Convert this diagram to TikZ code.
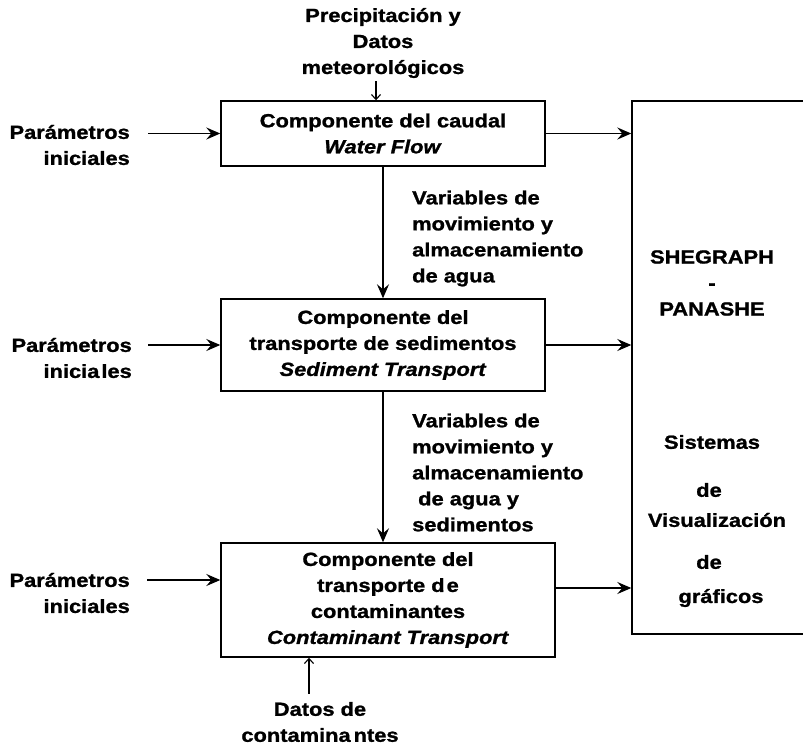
\documentclass[tikz,border=0pt]{standalone}
\usepackage{fontspec}
\setmainfont{Liberation Sans}[FakeStretch=1.15, BoldFeatures={FakeBold=1.2}, BoldItalicFeatures={FakeBold=1.2}]
\usetikzlibrary{arrows.meta}
\begin{document}
\begin{tikzpicture}[x=1pt,y=-1pt,
  txt/.style={font=\fontsize{19}{26}\selectfont\bfseries, inner sep=0pt},
  box/.style={txt, draw, line width=1.4pt, align=center},
  arr/.style={line width=1.4pt, -{Stealth[length=14pt,width=12pt,inset=5pt]}},
  smallarr/.style={line width=1.1pt, -{Straight Barb[length=5pt,width=9pt]}}]
\useasboundingbox (0,0) rectangle (803,745);
\clip (0,0) rectangle (803,745);
\fill[white] (0,0) rectangle (803,745);

% component boxes
\node[box, minimum width=324pt, minimum height=65pt] (b1) at (383,133.5)
  {Componente del caudal\\\textit{Water Flow}};
\node[box, minimum width=324pt, minimum height=92pt] (b2) at (383,345)
  {Componente del\\transporte de sedimentos\\\textit{Sediment Transport}};
\node[box, minimum width=334pt, minimum height=114pt] (b3) at (388,600)
  {Componente del\\transporte d\kern2pt e\\contaminantes\\\textit{Contaminant Transport}};

% visualisation box (right edge cut by the page)
\node[draw, line width=1.4pt, minimum width=178pt, minimum height=533pt, inner sep=0pt] (vis) at (721,367.5) {};
\node[txt, align=center] (sheg) at (712,283) {SHEGRAPH\\-\\PANASHE};
\node[txt] (v1) at (712,442) {Sistemas};
\node[txt] (v2) at (709,490) {de};
\node[txt] (v3) at (717,520) {Visualización};
\node[txt] (v4) at (709,562) {de};
\node[txt] (v5) at (721,598) {gráficos};

% inputs
\node[txt, align=center] (prec) at (383,43) {Precipitación y\\Datos\\meteorológicos};
\node[txt, align=right, anchor=east] (p1) at (130,145) {Parámetros\\iniciales};
\node[txt, align=right, anchor=east] (p2) at (132,358) {Parámetros\\inicia\kern2pt les};
\node[txt, align=right, anchor=east] (p3) at (130,593) {Parámetros\\iniciales};
\node[txt, align=center] (cont) at (320,722) {Datos de\\contamina\kern3pt ntes};

% flow labels
\node[txt, align=left, anchor=west] (l1) at (412,238.5)
  {Variables de\\movimiento y\\almacenamiento\\de agua};
\node[txt, align=left, anchor=west] (l2) at (412,472.5)
  {Variables de\\movimiento y\\almacenamiento\\\hspace*{6pt}de agua y\\sedimentos};

% anchor points
\coordinate (b3in) at ([yshift=20pt]b3.west);
\coordinate (b3out) at ([yshift=12pt]b3.east);

% connectors
\draw[smallarr] ([shift={(-7pt,19pt)}]b1.north) -- ([xshift=-7pt]b1.north);
\draw[arr] ([xshift=18pt]p1.east |- b1.west) -- (b1.west);
\draw[arr] ([xshift=16pt]p2.east |- b2.west) -- (b2.west);
\draw[arr] ([xshift=-73pt]b3in) -- (b3in);
\draw[arr] (b1.east) -- (vis.west |- b1.east);
\draw[arr] (b2.east) -- (vis.west |- b2.east);
\draw[arr] (b3out) -- (vis.west |- b3out);
\draw[arr] (b1.south) -- (b2.north);
\draw[arr] (b2.south) -- (b2.south |- b3.north);
\draw[smallarr] ([shift={(-79pt,-36pt)}]b3.south) -- ([xshift=-79pt]b3.south);
\end{tikzpicture}
\end{document}
